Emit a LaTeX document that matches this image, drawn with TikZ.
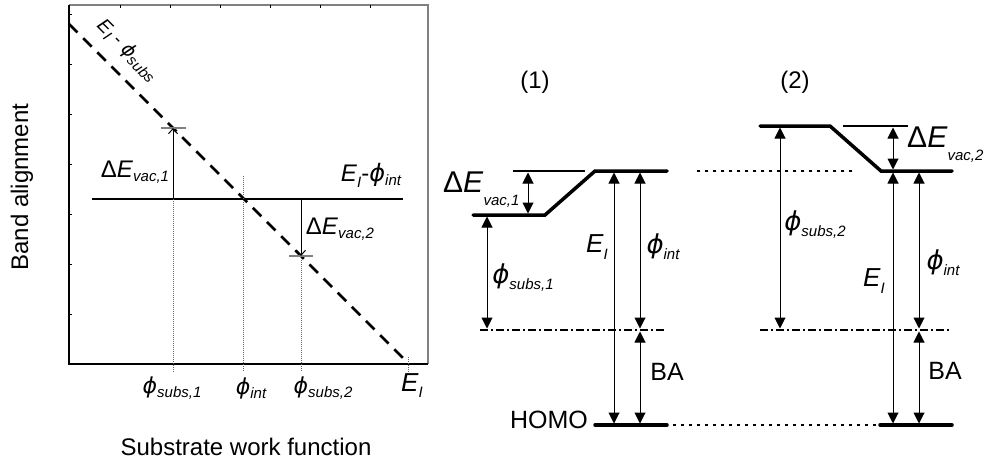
\documentclass[tikz,border=0pt]{standalone}
\usepackage{fontspec}
\setmainfont{Liberation Sans}
\newfontfamily\dejavu{DejaVu Sans}
\usetikzlibrary{arrows.meta}
\newcommand\phis{{\dejavu\itshape ϕ}}
\newcommand\sbs[2][4pt]{\raisebox{-#1}{\fontsize{15}{15}\selectfont\itshape #2}}
\newcommand\fs[1]{\fontsize{#1}{#1}\selectfont}
\begin{document}
\begin{tikzpicture}[x=1pt,y=-1pt,
  lvl/.style={line width=3.5pt,line cap=round},
  thinref/.style={line width=1.1pt},
  dbl/.style={line width=1pt,{Triangle[width=11pt,length=11pt]}-{Triangle[width=11pt,length=11pt]},shorten <=1.5pt,shorten >=1.5pt},
  pltarrow/.style={line width=1pt,-{Straight Barb[width=9pt,length=5pt]}},
  dotlvl/.style={line width=1.5pt,dash pattern=on 3pt off 5pt},
  dashdot/.style={line width=1.1pt,dash pattern=on 8pt off 3pt on 2pt off 3pt},
  fine/.style={line width=0.7pt,gray!80!black,dash pattern=on 1pt off 1pt},
  tickmark/.style={line width=0.8pt},
  lab/.style={inner sep=0pt,font=\fs{24}},
  biglab/.style={inner sep=0pt,font=\fs{30}},
  ttl/.style={inner sep=0pt,font=\fs{24}},
]
\useasboundingbox (0,0) rectangle (987,463);

% ---------------- left plot ----------------
\coordinate (BL) at (69,364);
\coordinate (TL) at (69,5);
\coordinate (TR) at (428,5);
\coordinate (BR) at (428,364);
\draw[line width=2pt,gray] (TL) -- (TR) -- (BR);
\draw[line width=1.3pt] (TL) -- (BL) -- (BR);
\foreach \y in {14,64,114,164,214,264,314} \draw[tickmark] (69,\y) -- (72,\y);
\foreach \x in {120,170,220,270,320,370} \draw[tickmark] (\x,5) -- (\x,8);

\coordinate (D0) at (69,24);
\coordinate (D1) at (408,363);
\draw[line width=2.5pt,dash pattern=on 12pt off 8pt] (D0) -- (D1);

\coordinate (H0) at (92,199);
\coordinate (H1) at (403,199);
\draw[line width=2.5pt] (H0) -- (H1);

\coordinate (A1b) at (173,199);
\coordinate (A1t) at (173,128);
\coordinate (A2t) at (301,199);
\coordinate (A2b) at (301,256);
\coordinate (Pi) at (243,176);
\draw[fine] (A1b) -- (173,372);
\draw[fine] (Pi) -- (243,372);
\draw[fine] (A2b) -- (301,372);
\draw[fine] (408,357) -- (408,373);
\draw[line width=1.2pt,gray] (161,128) -- (186,128);
\draw[line width=1.2pt,gray] (289,256) -- (313,256);
\draw[pltarrow] (A1b) -- (A1t);
\draw[pltarrow] (A2t) -- (A2b);

\node[lab] (ldv1) at (135,172) {Δ\textit{E}\sbs{vac,1}};
\node[lab] (leint) at (371,175) {\textit{E}\sbs[6pt]{I}-\phis\sbs{int}};
\node[lab] (ldv2) at (340,229) {Δ\textit{E}\sbs{vac,2}};
\node[lab,rotate=-45,font=\fs{19},anchor=base west] (lesubs) at (96,26) {\textit{E}\sbs[4pt]{I} - \phis\sbs[4pt]{subs}};
\node[lab,font=\fs{22}] (lp1) at (172,388) {\phis\sbs{subs,1}};
\node[lab,font=\fs{22}] (lpi) at (251,388) {\phis\sbs{int}};
\node[lab,font=\fs{22}] (lp2) at (323,388) {\phis\sbs{subs,2}};
\node[lab,font=\fs{26}] (lei) at (412,386) {\textit{E}\sbs[6pt]{I}};
\node[ttl] (xt) at (246,447) {Substrate work function};
\node[ttl,rotate=90] (yt) at (22,187) {Band alignment};

% ---------------- diagram (1) ----------------
\node[ttl] (n1) at (535,82) {(1)};
\coordinate (a1) at (473,215);
\coordinate (b1) at (545,215);
\coordinate (c1) at (595,171);
\coordinate (d1) at (667,171);
\draw[lvl] (a1) -- (b1) -- (c1) -- (d1);
\coordinate (r1a) at (513,171);
\coordinate (r1b) at (585,171);
\draw[thinref] (r1a) -- (r1b);
\draw[dbl] (528,171) -- (528,215);
\coordinate (dd1a) at (480,330);
\coordinate (dd1b) at (665,330);
\draw[dashdot] (dd1a) -- (dd1b);
\coordinate (h1a) at (595,425);
\coordinate (h1b) at (667,425);
\draw[lvl] (h1a) -- (h1b);
\draw[dbl] (487,215) -- (487,330);
\draw[dbl] (614,171) -- (614,425);
\draw[dbl] (640,171) -- (640,330);
\draw[dbl] (640,330) -- (640,425);
\draw[dotlvl] (697,171) -- (853,171);
\draw[dotlvl] (673,425) -- (880,425);

\node[biglab,anchor=base west] (m1dv) at (443,192) {Δ\textit{E}\sbs[13pt]{vac,1}};
\node[lab,font=\fs{26}] (m1ps) at (523,278) {\phis\sbs[6pt]{subs,1}};
\node[lab,font=\fs{26}] (m1ei) at (597,247) {\textit{E}\sbs[7pt]{I}};
\node[lab,font=\fs{26}] (m1pi) at (663,247) {\phis\sbs[6pt]{int}};
\node[lab,font=\fs{25}] (m1ba) at (667,372) {BA};
\node[lab,font=\fs{25},anchor=east] (homo) at (588,420) {HOMO};

% ---------------- diagram (2) ----------------
\node[ttl] (n2) at (795,82) {(2)};
\coordinate (a2) at (760,126);
\coordinate (b2) at (830,126);
\coordinate (c2) at (881,171);
\coordinate (d2) at (952,171);
\draw[lvl] (a2) -- (b2) -- (c2) -- (d2);
\coordinate (r2a) at (843,126);
\coordinate (r2b) at (908,126);
\draw[thinref] (r2a) -- (r2b);
\draw[dbl] (893,126) -- (893,171);
\coordinate (dd2a) at (760,330);
\coordinate (dd2b) at (950,330);
\draw[dashdot] (dd2a) -- (dd2b);
\coordinate (h2a) at (880,425);
\coordinate (h2b) at (952,425);
\draw[lvl] (h2a) -- (h2b);
\draw[dbl] (780,126) -- (780,330);
\draw[dbl] (893,171) -- (893,425);
\draw[dbl] (919,171) -- (919,330);
\draw[dbl] (919,330) -- (919,425);

\node[biglab,anchor=base west] (m2dv) at (907,147) {Δ\textit{E}\sbs[13pt]{vac,2}};
\node[lab,font=\fs{26}] (m2ps) at (815,225) {\phis\sbs[6pt]{subs,2}};
\node[lab,font=\fs{26}] (m2ei) at (874,281) {\textit{E}\sbs[7pt]{I}};
\node[lab,font=\fs{26}] (m2pi) at (943,263) {\phis\sbs[6pt]{int}};
\node[lab,font=\fs{25}] (m2ba) at (945,371) {BA};
\end{tikzpicture}
\end{document}
